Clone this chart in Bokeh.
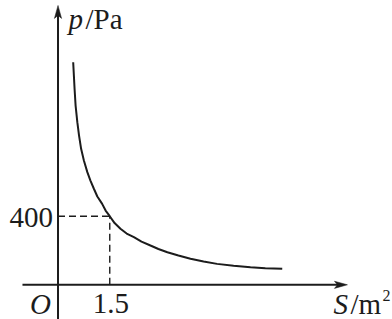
from bokeh.plotting import figure
from bokeh.models import Range1d, Label
from bokeh.embed import file_html
from bokeh.resources import INLINE

# values
area_S = [0.44, 0.46, 0.48, 0.51, 0.56, 0.61, 0.67, 0.75, 0.85, 0.94, 1.04, 1.14,
          1.28, 1.38, 1.50, 1.64, 1.81, 1.99, 2.20, 2.42, 2.68, 2.91, 3.17, 3.49,
          3.84, 4.22, 4.61, 5.09, 5.58, 6.01, 6.50]
pressure_p = [1298, 1220, 1143, 1045, 948, 870, 793, 725, 657, 608, 560, 515,
              472, 433, 400, 360, 327, 299, 278, 252, 229, 209, 190, 171,
              152, 136, 122, 111, 103, 97, 93]
mark_S = 1.5
mark_p = 400
tick_labels = {"x": "1.5", "y": "400"}

W, H = 392, 319
x0, x1 = -1.667, 9.696
y0, y1 = -202.3, 1657.7
px_x = (x1 - x0) / W
px_y = (y1 - y0) / H

p = figure(width=W, height=H, x_range=Range1d(x0, x1), y_range=Range1d(y0, y1),
           x_axis_type=None, y_axis_type=None, toolbar_location=None,
           output_backend="svg", min_border=0)
p.grid.visible = False
p.outline_line_color = None
p.background_fill_color = "white"
p.border_fill_color = "white"

ink = "#1c1c1c"
FONT = "Liberation Serif"
FS = "29px"

# axes
x_axis_start, x_axis_end = -1.03, 8.39
y_axis_start, y_axis_end = -215, 1629
p.segment(x0=[x_axis_start], y0=[0], x1=[x_axis_end - 8 * px_x], y1=[0], line_color=ink, line_width=2)
p.segment(x0=[0], y0=[y_axis_start], x1=[0], y1=[y_axis_end - 8 * px_y], line_color=ink, line_width=2)
# arrow heads
hl, hw, notch = 13, 3.6, 3
p.patch(x=[x_axis_end, x_axis_end - hl * px_x, x_axis_end - (hl - notch) * px_x, x_axis_end - hl * px_x],
        y=[0, hw * px_y, 0, -hw * px_y], fill_color=ink, line_color=ink, line_width=0.5)
p.patch(x=[0, hw * px_x, 0, -hw * px_x],
        y=[y_axis_end, y_axis_end - hl * px_y, y_axis_end - (hl - notch) * px_y, y_axis_end - hl * px_y],
        fill_color=ink, line_color=ink, line_width=0.5)

# dashed guides
p.segment(x0=[0], y0=[mark_p], x1=[mark_S], y1=[mark_p], line_color=ink, line_width=1.4, line_dash="7 4")
p.segment(x0=[mark_S], y0=[0], x1=[mark_S], y1=[mark_p], line_color=ink, line_width=1.4, line_dash="7 4")

# curve
p.line(area_S, pressure_p, line_color=ink, line_width=2)

def lab(x, y, text, style="normal", align="left", baseline="alphabetic", xo=0, yo=0, size=FS):
    p.add_layout(Label(x=x, y=y, text=text, text_font=FONT, text_font_size=size,
                       text_font_style=style, text_align=align, text_baseline=baseline,
                       x_offset=xo, y_offset=yo, text_color=ink))

lab(0, mark_p, tick_labels["y"], align="right", baseline="middle", xo=-5, yo=-1)
lab(mark_S, 0, tick_labels["x"], align="center", xo=1, yo=-19)
lab(0, 0, "O", style="italic", align="right", xo=-7, yo=-19)
lab(x_axis_end, 0, "S", style="italic", xo=-14, yo=-19)
lab(x_axis_end, 0, "/m", xo=3, yo=-19)
lab(x_axis_end, 0, "2", xo=35, yo=-11, size="16px")
lab(0, y_axis_end, "p", style="italic", xo=10.5, yo=-14)
lab(0, y_axis_end, "/Pa", xo=27.5, yo=-14)

open("out.html", "w").write(file_html(p, INLINE))
